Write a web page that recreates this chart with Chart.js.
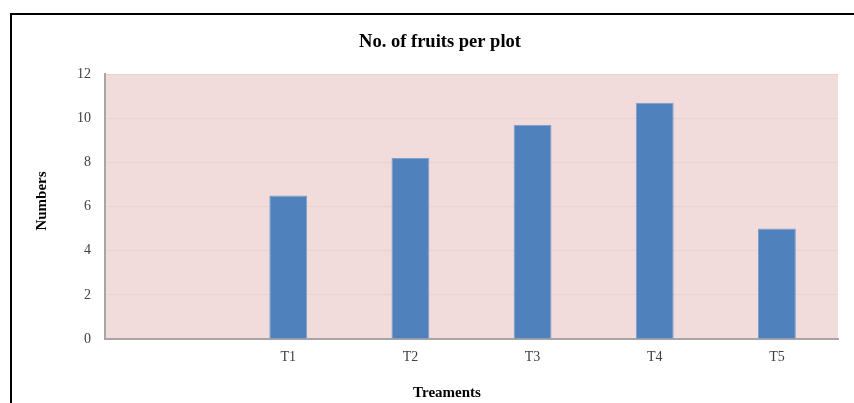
<!DOCTYPE html>
<html>
<head>
<meta charset="utf-8">
<script src="https://cdn.jsdelivr.net/npm/chart.js@4/dist/chart.umd.min.js"></script>
<style>
  html, body { margin: 0; padding: 0; background: #ffffff; overflow: hidden; }
  #wrap { position: relative; width: 854px; height: 403px; }
</style>
</head>
<body>
<div id="wrap"><canvas id="chart" width="854" height="403"></canvas></div>
<script>
// Treatments along the x axis (the first slot is left empty)
const categories = ['', 'T1', 'T2', 'T3', 'T4', 'T5'];
// Mean number of fruits per plot
const fruitsPerPlot = [null, 6.5, 8.2, 9.7, 10.7, 5.0];
// Value axis
const yMin = 0;
const yMax = 12;
const yStep = 2;

const chartTitle = 'No. of fruits per plot';
const xTitle = 'Treaments';
const yTitle = 'Numbers';

const serif = '"Liberation Serif", "Times New Roman", serif';

// Pink plot background, outer frame and the chart / axis titles
const decorations = {
  id: 'decorations',
  beforeDraw(chart) {
    const { ctx, chartArea: a } = chart;
    ctx.save();
    ctx.fillStyle = '#f2dcdb';
    ctx.fillRect(a.left, a.top, a.right - a.left, a.bottom - a.top);
    ctx.restore();
  },
  afterDraw(chart) {
    const { ctx } = chart;
    ctx.save();
    ctx.strokeStyle = '#000000';
    ctx.lineWidth = 2;
    ctx.strokeRect(11, 14, 900, 500);

    ctx.fillStyle = '#000000';
    ctx.textAlign = 'center';
    ctx.textBaseline = 'middle';
    ctx.font = 'bold 18.5px ' + serif;
    ctx.fillText(chartTitle, 440, 42);

    ctx.font = 'bold 15px ' + serif;
    ctx.fillText(xTitle, 447, 393);

    ctx.translate(42, 201);
    ctx.rotate(-Math.PI / 2);
    ctx.fillText(yTitle, 0, 0);
    ctx.restore();
  }
};

new Chart(document.getElementById('chart'), {
  type: 'bar',
  data: {
    labels: categories,
    datasets: [{
      data: fruitsPerPlot,
      backgroundColor: '#4f81bd',
      borderColor: '#7d9fcb',
      borderWidth: 1,
      barPercentage: 0.31,
      categoryPercentage: 1.0
    }]
  },
  options: {
    responsive: false,
    animation: false,
    devicePixelRatio: 1,
    layout: { padding: { left: 0, right: 16, top: 74, bottom: 0 } },
    plugins: {
      legend: { display: false },
      title: { display: false },
      tooltip: { enabled: false }
    },
    scales: {
      x: {
        grid: { display: false, drawTicks: false },
        border: { display: true, color: '#a6a6a6', width: 2 },
        ticks: {
          color: '#404040',
          font: { family: serif, size: 14 },
          padding: 10,
          maxRotation: 0,
          autoSkip: false
        },
        afterFit(scale) { scale.height = 64; }
      },
      y: {
        min: yMin,
        max: yMax,
        grid: { color: '#e9d2d1', lineWidth: 1, drawTicks: false },
        border: { display: true, color: '#a6a6a6', width: 2 },
        ticks: {
          stepSize: yStep,
          color: '#404040',
          font: { family: serif, size: 14 },
          padding: 14
        },
        afterFit(scale) { scale.width = 105; }
      }
    }
  },
  plugins: [decorations]
});
</script>
</body>
</html>
